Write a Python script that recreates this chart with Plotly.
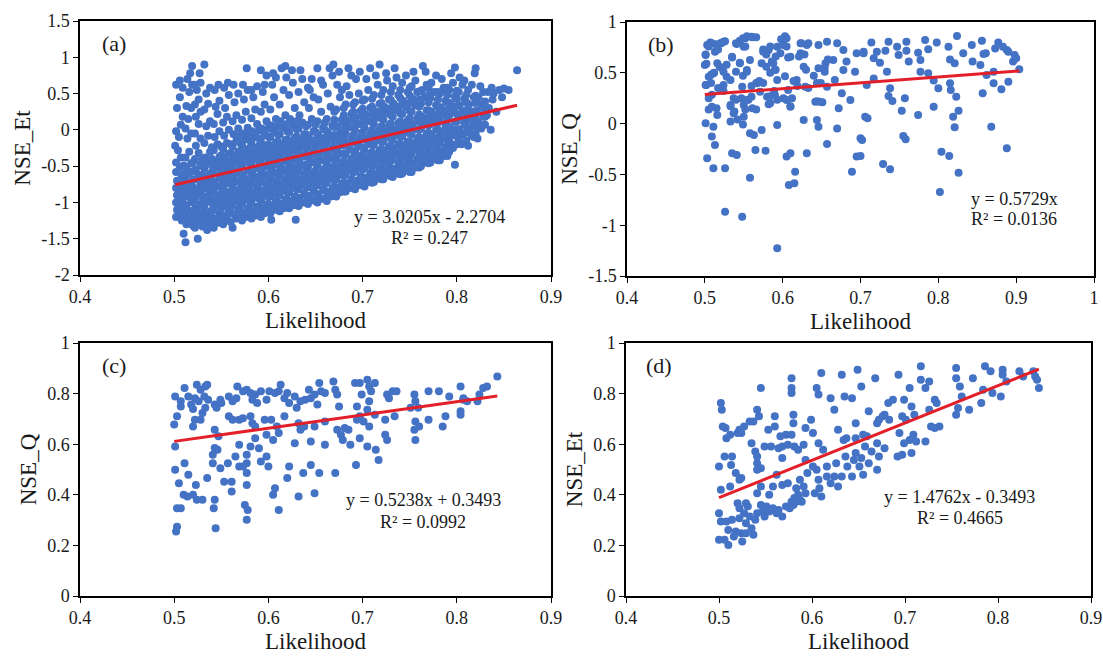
import plotly.graph_objects as go

# ---------------- data ----------------
# panel (a): Likelihood vs NSE_Et  (individual points)
pairs_a = [
 (0.502,-1.20),(0.507,-1.15),(0.503,-1.10),(0.508,-1.05),(0.502,-1.00),(0.506,-0.95),(0.503,-0.90),(0.508,-0.85),(0.502,-0.80),(0.507,-0.75),(0.503,-0.70),(0.508,-0.64),(0.502,-0.58),(0.506,-0.52),(0.502,-0.45),(0.507,-0.38),(0.501,-0.22),(0.504,-0.28),(0.502,-0.02),(0.507,0.07),(0.503,0.30),(0.506,0.45),(0.502,0.62),(0.506,0.68),(0.509,0.58),(0.51,-1.43),(0.505,-1.08),(0.508,-1.25),(0.505,-0.10),(0.509,0.18),
 (0.512,-1.55),(0.513,-1.30),(0.517,-1.25),(0.512,-1.18),(0.516,-1.12),(0.513,-1.05),(0.518,-0.98),(0.512,-0.92),(0.516,-0.86),(0.513,-0.80),(0.518,-0.73),(0.512,-0.66),(0.516,-0.60),(0.513,-0.52),(0.518,-0.46),(0.512,-0.38),(0.516,-0.30),(0.514,-0.12),(0.518,-0.05),(0.512,0.02),(0.515,0.15),(0.518,0.30),(0.513,0.33),(0.516,0.52),(0.519,0.62),(0.514,0.70),(0.517,0.78),(0.519,0.88),
 (0.525,-1.50),(0.522,-1.35),(0.527,-1.28),(0.522,-1.22),(0.526,-1.15),(0.523,-1.08),(0.528,-1.02),(0.522,-0.95),(0.526,-0.88),(0.523,-0.82),(0.528,-0.75),(0.522,-0.68),(0.526,-0.62),(0.523,-0.55),(0.528,-0.48),(0.522,-0.40),(0.526,-0.32),(0.523,-0.22),(0.528,-0.12),(0.522,-0.05),(0.526,0.08),(0.523,0.18),(0.528,0.25),(0.522,0.35),(0.526,0.42),(0.524,0.55),(0.528,0.65),(0.522,0.62),(0.527,0.78),
 (0.532,0.90),(0.535,-1.38),(0.532,-1.30),(0.537,-1.25),(0.533,-1.18),(0.538,-1.12),(0.532,-1.05),(0.536,-0.98),(0.533,-0.92),(0.538,-0.86),(0.532,-0.80),(0.536,-0.73),(0.533,-0.66),(0.538,-0.60),(0.532,-0.53),(0.536,-0.46),(0.533,-0.38),(0.538,-0.30),(0.532,-0.18),(0.536,-0.08),(0.534,0.05),(0.538,0.12),(0.532,0.28),(0.536,0.36),(0.534,0.50),(0.538,0.58),
 (0.542,-1.35),(0.546,-1.28),(0.543,-1.22),(0.548,-1.16),(0.542,-1.10),(0.546,-1.03),(0.543,-0.97),(0.548,-0.90),(0.542,-0.84),(0.546,-0.78),(0.543,-0.71),(0.548,-0.64),(0.542,-0.58),(0.546,-0.51),(0.543,-0.44),(0.548,-0.37),(0.542,-0.28),(0.546,-0.20),(0.543,-0.10),(0.548,-0.02),(0.542,0.08),(0.546,0.22),(0.544,0.32),(0.548,0.40),(0.543,0.55),(0.547,0.62),
 (0.552,-1.30),(0.556,-1.24),(0.553,-1.18),(0.558,-1.12),(0.552,-1.05),(0.556,-0.99),(0.553,-0.93),(0.558,-0.86),(0.552,-0.80),(0.556,-0.74),(0.553,-0.67),(0.558,-0.60),(0.552,-0.54),(0.556,-0.47),(0.553,-0.40),(0.558,-0.33),(0.552,-0.26),(0.556,-0.18),(0.553,-0.08),(0.558,0.00),(0.552,0.10),(0.556,0.18),(0.554,0.30),(0.558,0.48),(0.553,0.58),(0.557,0.65),
 (0.562,-1.35),(0.566,-1.22),(0.563,-1.16),(0.568,-1.10),(0.562,-1.04),(0.566,-0.97),(0.563,-0.90),(0.568,-0.84),(0.562,-0.78),(0.566,-0.71),(0.563,-0.64),(0.568,-0.58),(0.562,-0.51),(0.566,-0.44),(0.563,-0.37),(0.568,-0.30),(0.562,-0.23),(0.566,-0.15),(0.563,-0.06),(0.568,0.02),(0.562,0.12),(0.566,0.20),(0.564,0.38),(0.568,0.50),(0.563,0.62),
 (0.572,-1.25),(0.576,-1.20),(0.573,-1.14),(0.578,-1.08),(0.572,-1.02),(0.576,-0.95),(0.573,-0.88),(0.578,-0.82),(0.572,-0.76),(0.576,-0.69),(0.573,-0.62),(0.578,-0.56),(0.572,-0.49),(0.576,-0.42),(0.573,-0.35),(0.578,-0.28),(0.572,-0.21),(0.576,-0.13),(0.573,-0.05),(0.578,0.03),(0.572,0.14),(0.576,0.25),(0.574,0.42),(0.578,0.55),(0.577,0.85),(0.573,0.62),
 (0.582,-1.22),(0.586,-1.18),(0.583,-1.12),(0.588,-1.06),(0.582,-1.00),(0.586,-0.93),(0.583,-0.86),(0.588,-0.80),(0.582,-0.73),(0.586,-0.66),(0.583,-0.60),(0.588,-0.53),(0.582,-0.46),(0.586,-0.39),(0.583,-0.32),(0.588,-0.25),(0.582,-0.18),(0.586,-0.10),(0.583,-0.02),(0.588,0.08),(0.582,0.16),(0.586,0.28),(0.584,0.45),(0.588,0.60),(0.582,0.55),
 (0.592,-1.20),(0.596,-1.15),(0.593,-1.09),(0.598,-1.03),(0.592,-0.97),(0.596,-0.90),(0.593,-0.84),(0.598,-0.77),(0.592,-0.71),(0.596,-0.64),(0.593,-0.57),(0.598,-0.50),(0.592,-0.43),(0.596,-0.36),(0.593,-0.29),(0.598,-0.22),(0.592,-0.15),(0.596,-0.07),(0.593,0.02),(0.598,0.12),(0.592,0.25),(0.596,0.35),(0.594,0.52),(0.598,0.75),(0.592,0.82),(0.596,0.62),
 (0.602,-1.15),(0.606,-1.10),(0.603,-1.04),(0.608,-0.98),(0.602,-0.92),(0.606,-0.85),(0.603,-0.79),(0.608,-0.72),(0.602,-0.66),(0.606,-0.59),(0.603,-0.52),(0.608,-0.45),(0.602,-0.38),(0.606,-0.31),(0.603,-0.24),(0.608,-0.17),(0.602,-0.10),(0.606,-0.02),(0.603,0.06),(0.608,0.15),(0.602,0.28),(0.606,0.45),(0.604,0.62),(0.608,0.72),(0.605,0.78),(0.603,-1.24),
 (0.612,-1.12),(0.616,-1.08),(0.613,-1.02),(0.618,-0.96),(0.612,-0.90),(0.616,-0.83),(0.613,-0.76),(0.618,-0.70),(0.612,-0.63),(0.616,-0.56),(0.613,-0.49),(0.618,-0.42),(0.612,-0.35),(0.616,-0.28),(0.613,-0.21),(0.618,-0.14),(0.612,-0.06),(0.616,0.03),(0.613,0.12),(0.618,0.20),(0.612,0.35),(0.616,0.55),(0.614,0.85),(0.618,0.88),(0.619,0.72),
 (0.622,-1.08),(0.626,-1.04),(0.623,-0.98),(0.628,-0.92),(0.622,-0.86),(0.626,-0.79),(0.623,-0.73),(0.628,-0.66),(0.622,-0.60),(0.626,-0.53),(0.623,-0.46),(0.628,-0.39),(0.622,-0.32),(0.626,-0.25),(0.623,-0.18),(0.628,-0.11),(0.622,-0.03),(0.626,0.06),(0.623,0.15),(0.628,0.30),(0.622,0.48),(0.626,0.65),(0.625,0.82),(0.629,-1.24),
 (0.632,-1.05),(0.636,-1.00),(0.633,-0.94),(0.638,-0.88),(0.632,-0.82),(0.636,-0.75),(0.633,-0.69),(0.638,-0.62),(0.632,-0.56),(0.636,-0.49),(0.633,-0.42),(0.638,-0.35),(0.632,-0.28),(0.636,-0.21),(0.633,-0.14),(0.638,-0.06),(0.632,0.02),(0.636,0.10),(0.633,0.20),(0.638,0.38),(0.632,0.52),(0.636,0.70),(0.634,0.82),
 (0.642,-1.02),(0.646,-0.97),(0.643,-0.91),(0.648,-0.85),(0.642,-0.79),(0.646,-0.72),(0.643,-0.66),(0.648,-0.59),(0.642,-0.52),(0.646,-0.45),(0.643,-0.38),(0.648,-0.31),(0.642,-0.24),(0.646,-0.17),(0.643,-0.10),(0.648,-0.02),(0.642,0.07),(0.646,0.15),(0.643,0.30),(0.648,0.45),(0.642,0.58),(0.646,0.70),(0.644,0.55),
 (0.652,-1.00),(0.656,-0.95),(0.653,-0.89),(0.658,-0.82),(0.652,-0.76),(0.656,-0.69),(0.653,-0.63),(0.658,-0.56),(0.652,-0.49),(0.656,-0.42),(0.653,-0.35),(0.658,-0.28),(0.652,-0.21),(0.656,-0.14),(0.653,-0.06),(0.658,0.03),(0.652,0.12),(0.656,0.25),(0.653,0.42),(0.658,0.62),(0.652,0.85),(0.656,0.68),
 (0.662,-0.98),(0.666,-0.92),(0.663,-0.86),(0.668,-0.80),(0.662,-0.73),(0.666,-0.66),(0.663,-0.60),(0.668,-0.53),(0.662,-0.46),(0.666,-0.39),(0.663,-0.32),(0.668,-0.25),(0.662,-0.18),(0.666,-0.11),(0.663,-0.03),(0.668,0.06),(0.662,0.15),(0.666,0.32),(0.663,0.50),(0.668,0.75),(0.665,0.85),(0.669,0.90),
 (0.672,-0.92),(0.676,-0.86),(0.673,-0.80),(0.678,-0.74),(0.672,-0.67),(0.676,-0.60),(0.673,-0.54),(0.678,-0.47),(0.672,-0.40),(0.676,-0.33),(0.673,-0.26),(0.678,-0.19),(0.672,-0.12),(0.676,-0.04),(0.673,0.05),(0.678,0.14),(0.672,0.28),(0.676,0.45),(0.673,0.62),(0.678,0.55),(0.675,0.80),
 (0.682,-0.85),(0.686,-0.80),(0.683,-0.74),(0.688,-0.68),(0.682,-0.61),(0.686,-0.54),(0.683,-0.48),(0.688,-0.41),(0.682,-0.34),(0.686,-0.27),(0.683,-0.20),(0.688,-0.13),(0.682,-0.05),(0.686,0.04),(0.683,0.13),(0.688,0.22),(0.682,0.35),(0.686,0.48),(0.683,0.60),(0.688,0.75),(0.685,0.85),
 (0.692,-0.82),(0.696,-0.76),(0.693,-0.70),(0.698,-0.64),(0.692,-0.57),(0.696,-0.50),(0.693,-0.44),(0.698,-0.37),(0.692,-0.30),(0.696,-0.23),(0.693,-0.16),(0.698,-0.09),(0.692,-0.01),(0.696,0.08),(0.693,0.17),(0.698,0.26),(0.692,0.38),(0.696,0.50),(0.693,0.70),(0.697,0.80),
 (0.702,-0.78),(0.706,-0.72),(0.703,-0.66),(0.708,-0.60),(0.702,-0.53),(0.706,-0.46),(0.703,-0.40),(0.708,-0.33),(0.702,-0.26),(0.706,-0.19),(0.703,-0.12),(0.708,-0.05),(0.702,0.03),(0.706,0.12),(0.703,0.21),(0.708,0.30),(0.702,0.42),(0.706,0.55),(0.704,0.70),(0.708,0.85),
 (0.712,-0.72),(0.716,-0.67),(0.713,-0.61),(0.718,-0.55),(0.712,-0.48),(0.716,-0.41),(0.713,-0.35),(0.718,-0.28),(0.712,-0.21),(0.716,-0.14),(0.713,-0.07),(0.718,0.00),(0.712,0.08),(0.716,0.17),(0.713,0.26),(0.718,0.36),(0.712,0.48),(0.716,0.62),(0.714,0.75),(0.718,0.90),
 (0.722,-0.68),(0.726,-0.62),(0.723,-0.56),(0.728,-0.50),(0.722,-0.43),(0.726,-0.36),(0.723,-0.30),(0.728,-0.23),(0.722,-0.16),(0.726,-0.09),(0.723,-0.02),(0.728,0.06),(0.722,0.14),(0.726,0.23),(0.723,0.32),(0.728,0.42),(0.722,0.55),(0.726,0.68),(0.725,0.78),
 (0.732,-0.65),(0.736,-0.60),(0.733,-0.54),(0.738,-0.47),(0.732,-0.40),(0.736,-0.33),(0.733,-0.27),(0.738,-0.20),(0.732,-0.13),(0.736,-0.06),(0.733,0.01),(0.738,0.09),(0.732,0.18),(0.736,0.27),(0.733,0.36),(0.738,0.48),(0.732,0.60),(0.736,0.72),(0.734,0.85),
 (0.742,-0.60),(0.746,-0.55),(0.743,-0.49),(0.748,-0.43),(0.742,-0.36),(0.746,-0.29),(0.743,-0.23),(0.748,-0.16),(0.742,-0.09),(0.746,-0.02),(0.743,0.05),(0.748,0.13),(0.742,0.22),(0.746,0.31),(0.743,0.40),(0.748,0.52),(0.742,0.65),(0.746,0.75),
 (0.752,-0.58),(0.756,-0.52),(0.753,-0.46),(0.758,-0.40),(0.752,-0.33),(0.756,-0.26),(0.753,-0.20),(0.758,-0.13),(0.752,-0.06),(0.756,0.01),(0.753,0.08),(0.758,0.16),(0.752,0.25),(0.756,0.34),(0.753,0.43),(0.758,0.52),(0.752,0.60),(0.756,0.68),(0.754,0.80),
 (0.762,-0.50),(0.766,-0.45),(0.763,-0.39),(0.768,-0.33),(0.762,-0.26),(0.766,-0.19),(0.763,-0.12),(0.768,-0.05),(0.762,0.02),(0.766,0.10),(0.763,0.18),(0.768,0.27),(0.762,0.36),(0.766,0.45),(0.763,0.55),(0.768,0.62),(0.764,0.88),(0.767,0.80),
 (0.772,-0.45),(0.776,-0.40),(0.773,-0.34),(0.778,-0.28),(0.772,-0.21),(0.776,-0.14),(0.773,-0.07),(0.778,0.00),(0.772,0.08),(0.776,0.16),(0.773,0.25),(0.778,0.34),(0.772,0.44),(0.776,0.52),(0.773,0.65),(0.778,0.75),
 (0.782,-0.42),(0.786,-0.36),(0.783,-0.30),(0.788,-0.24),(0.782,-0.17),(0.786,-0.10),(0.783,-0.03),(0.788,0.05),(0.782,0.13),(0.786,0.22),(0.783,0.31),(0.788,0.40),(0.782,0.50),(0.786,0.58),(0.784,0.70),(0.788,0.55),
 (0.792,-0.30),(0.796,-0.25),(0.793,-0.18),(0.798,-0.48),(0.792,-0.11),(0.796,-0.04),(0.793,0.03),(0.798,0.11),(0.792,0.20),(0.796,0.28),(0.793,0.37),(0.798,0.46),(0.792,0.55),(0.796,0.65),(0.798,0.86),(0.794,0.78),
 (0.802,-0.12),(0.806,-0.06),(0.803,0.01),(0.808,0.09),(0.802,0.17),(0.806,0.25),(0.803,0.34),(0.808,0.43),(0.802,0.52),(0.806,0.62),(0.803,0.72),(0.808,0.68),(0.805,-0.20),
 (0.812,-0.22),(0.816,-0.08),(0.813,0.00),(0.818,0.08),(0.812,0.15),(0.816,0.25),(0.813,0.35),(0.818,0.45),(0.812,0.55),(0.816,0.62),(0.819,0.78),(0.82,0.85),(0.818,-0.10),
 (0.822,-0.12),(0.826,0.02),(0.823,0.10),(0.828,0.18),(0.822,0.26),(0.826,0.35),(0.823,0.45),(0.828,0.52),(0.825,0.60),
 (0.832,0.20),(0.836,0.00),(0.834,0.30),(0.838,0.42),(0.833,0.52),(0.837,0.58),(0.839,0.50),
 (0.842,0.25),(0.845,0.55),(0.85,0.57),(0.855,0.55),(0.864,0.82),(0.848,0.45),
]

# panel (a): further points of the dense core, read column by column (Likelihood, [NSE_Et ...])
cols_a = [
 (0.510, [-1.22,-1.12,-1.02,-0.93,-0.83,-0.72,-0.61,-0.49]),
 (0.520, [-1.32,-1.21,-1.11,-1.00,-0.90,-0.79,-0.69,-0.57,-0.45]),
 (0.530, [-1.33,-1.22,-1.13,-1.03,-0.93,-0.82,-0.71,-0.62,-0.50,-0.41]),
 (0.540, [-1.32,-1.21,-1.12,-1.01,-0.91,-0.80,-0.70,-0.59,-0.49,-0.40,-0.24]),
 (0.550, [-1.28,-1.19,-1.08,-0.98,-0.88,-0.77,-0.67,-0.56,-0.46,-0.35,-0.23]),
 (0.560, [-1.27,-1.15,-1.06,-0.95,-0.85,-0.74,-0.64,-0.53,-0.43,-0.32,-0.20]),
 (0.570, [-1.21,-1.12,-1.01,-0.91,-0.81,-0.70,-0.60,-0.50,-0.39,-0.29,-0.18,-0.08]),
 (0.580, [-1.18,-1.09,-0.98,-0.88,-0.77,-0.67,-0.56,-0.46,-0.36,-0.25,-0.14,-0.04]),
 (0.590, [-1.16,-1.06,-0.95,-0.85,-0.74,-0.64,-0.53,-0.43,-0.33,-0.22,-0.12,-0.01]),
 (0.600, [-1.13,-1.03,-0.93,-0.82,-0.72,-0.61,-0.51,-0.41,-0.30,-0.20,-0.09,0.02]),
 (0.610, [-1.10,-1.00,-0.89,-0.79,-0.68,-0.58,-0.48,-0.37,-0.27,-0.16,-0.06,0.05]),
 (0.620, [-1.06,-0.96,-0.86,-0.75,-0.65,-0.54,-0.44,-0.34,-0.23,-0.13,-0.02,0.08]),
 (0.630, [-1.03,-0.93,-0.82,-0.72,-0.61,-0.51,-0.41,-0.30,-0.20,-0.09,0.01,0.12]),
 (0.640, [-1.00,-0.90,-0.79,-0.69,-0.58,-0.48,-0.37,-0.27,-0.16,-0.06,0.05]),
 (0.650, [-0.98,-0.87,-0.77,-0.66,-0.56,-0.45,-0.35,-0.24,-0.14,-0.03,0.07]),
 (0.660, [-0.95,-0.84,-0.74,-0.63,-0.53,-0.42,-0.32,-0.21,-0.11,0.00,0.10]),
 (0.670, [-0.90,-0.80,-0.70,-0.59,-0.49,-0.38,-0.28,-0.17,-0.07,0.04,0.14,0.25]),
 (0.680, [-0.85,-0.75,-0.64,-0.54,-0.43,-0.33,-0.22,-0.12,-0.01,0.09,0.20,0.30]),
 (0.690, [-0.80,-0.70,-0.59,-0.49,-0.38,-0.28,-0.17,-0.07,0.04,0.14,0.25,0.35]),
 (0.700, [-0.76,-0.66,-0.55,-0.45,-0.34,-0.24,-0.13,-0.03,0.08,0.18,0.29,0.40]),
 (0.710, [-0.73,-0.63,-0.52,-0.42,-0.31,-0.21,-0.10,0.00,0.11,0.21,0.32,0.43]),
 (0.720, [-0.68,-0.58,-0.47,-0.37,-0.26,-0.16,-0.05,0.05,0.16,0.26,0.37,0.48]),
 (0.730, [-0.64,-0.54,-0.43,-0.33,-0.22,-0.12,-0.01,0.09,0.20,0.30,0.41,0.52]),
 (0.740, [-0.61,-0.51,-0.40,-0.30,-0.19,-0.09,0.02,0.12,0.23,0.33,0.44,0.55]),
 (0.750, [-0.58,-0.47,-0.37,-0.26,-0.16,-0.05,0.05,0.16,0.26,0.37,0.47,0.58]),
 (0.760, [-0.52,-0.42,-0.31,-0.21,-0.10,0.00,0.11,0.21,0.32,0.42,0.53]),
 (0.770, [-0.46,-0.36,-0.25,-0.15,-0.04,0.06,0.17,0.27,0.38,0.48,0.58]),
 (0.780, [-0.42,-0.32,-0.21,-0.11,0.00,0.10,0.21,0.31,0.42,0.52]),
 (0.790, [-0.36,-0.26,-0.15,-0.05,0.06,0.16,0.27,0.37,0.48,0.58]),
 (0.800, [-0.20,-0.09,0.01,0.12,0.22,0.33,0.43,0.54]),
 (0.810, [-0.15,-0.04,0.06,0.17,0.27,0.38,0.48]),
 (0.820, [-0.05,0.05,0.16,0.26,0.37,0.47]),
 (0.830, [0.07,0.18,0.28,0.39]),
]

# panel (b): Likelihood vs NSE_Q
pairs_b = [
 (0.503,0.774),(0.507,0.797),(0.513,0.708),(0.520,0.79),(0.524,0.806),(0.541,0.783),(0.545,0.816),(0.552,0.84),(0.560,0.856),(0.550,0.757),(0.575,0.708),(0.582,0.725),(0.593,0.757),(0.605,0.84),(0.601,0.774),(0.597,0.692),(0.623,0.79),(0.631,0.774),(0.646,0.774),(0.657,0.806),(0.670,0.79),(0.678,0.725),(0.695,0.692),(0.704,0.708),
 (0.501,0.675),(0.5,0.577),(0.516,0.593),(0.522,0.544),(0.535,0.659),(0.545,0.593),(0.554,0.527),(0.558,0.626),(0.573,0.593),(0.588,0.593),(0.590,0.527),(0.610,0.659),(0.623,0.692),(0.627,0.56),(0.646,0.544),(0.655,0.593),(0.665,0.626),(0.678,0.527),(0.682,0.61),(0.693,0.511),
 (0.501,0.38),(0.505,0.462),(0.511,0.495),(0.524,0.38),(0.528,0.462),(0.537,0.249),(0.548,0.363),(0.554,0.232),(0.560,0.265),(0.567,0.396),(0.571,0.314),(0.580,0.265),(0.584,0.2),(0.590,0.281),(0.601,0.249),(0.605,0.232),(0.610,0.167),(0.618,0.429),(0.629,0.363),(0.642,0.216),(0.648,0.216),(0.657,0.363),(0.667,0.429),(0.672,0.15),(0.676,0.298),(0.687,0.232),(0.509,0.167),(0.516,0.085),(0.533,0.183),(0.537,0.101),(0.550,0.068),(0.550,0.183),
 (0.501,0.003),(0.511,-0.03),(0.509,-0.128),(0.513,-0.21),(0.503,-0.342),(0.511,-0.44),(0.526,-0.44),(0.535,-0.293),(0.541,-0.309),(0.558,-0.096),(0.563,-0.112),(0.573,-0.063),(0.593,-0.014),(0.565,-0.26),(0.578,-0.266),(0.558,-0.532),(0.605,-0.325),(0.610,-0.293),(0.616,-0.473),(0.608,-0.604),(0.615,-0.588),(0.627,0.035),(0.644,0.035),(0.646,-0.03),(0.631,-0.293),(0.657,-0.2),(0.670,-0.047),(0.689,-0.473),(0.695,-0.325),(0.700,-0.145),(0.706,0.068),(0.526,-0.867),(0.548,-0.916),(0.593,-1.228),
 (0.501,0.68),(0.502,0.59),(0.505,0.76),(0.509,0.79),(0.514,0.78),(0.517,0.73),(0.521,0.79),(0.526,0.81),(0.519,0.56),(0.524,0.51),(0.528,0.58),(0.508,0.48),(0.512,0.5),(0.502,0.38),(0.508,0.4),(0.505,0.25),(0.509,0.285),(0.505,0.14),(0.515,0.15),(0.517,0.35),(0.524,0.32),(0.533,0.43),(0.535,0.65),(0.54,0.79),(0.545,0.81),(0.549,0.84),(0.554,0.86),(0.561,0.85),(0.566,0.85),(0.552,0.76),(0.545,0.6),(0.54,0.51),(0.549,0.47),(0.554,0.51),(0.56,0.37),(0.566,0.4),(0.57,0.42),(0.575,0.4),(0.54,0.235),(0.547,0.25),(0.552,0.14),(0.556,0.235),(0.561,0.15),(0.566,0.14),(0.533,0.17),(0.538,0.12),(0.533,0.02),(0.542,0.04),(0.549,-0.01),(0.575,0.73),(0.579,0.68),(0.584,0.76),(0.579,0.56),(0.586,0.61),(0.591,0.66),(0.584,0.5),(0.591,0.53),(0.593,0.43),(0.584,0.27),(0.589,0.32),(0.582,0.19),(0.593,0.235),(0.598,0.83),(0.603,0.86),(0.605,0.76),(0.607,0.65),(0.603,0.465),(0.607,0.33),(0.612,0.25),(0.61,0.17),(0.614,0.42),(0.619,0.37),(0.621,0.66),(0.624,0.79),(0.628,0.68),(0.633,0.79),(0.63,0.53),(0.633,0.35),(0.64,0.47),(0.644,0.4),(0.649,0.4),(0.644,0.22),(0.651,0.21),(0.654,0.55),(0.658,0.63),(0.654,0.51),
 (0.714,0.797),(0.704,0.692),(0.717,0.642),(0.721,0.708),(0.725,0.6),(0.732,0.718),(0.736,0.806),(0.747,0.757),(0.749,0.675),(0.759,0.806),(0.759,0.718),(0.762,0.61),(0.734,0.511),(0.708,0.38),(0.717,0.445),(0.738,0.347),(0.736,0.272),(0.741,0.222),(0.757,0.249),(0.753,0.127),(0.709,0.052),(0.702,-0.161),(0.70,-0.32),(0.729,-0.398),(0.738,-0.45),(0.755,-0.122),(0.758,-0.155),
 (0.774,0.698),(0.777,0.626),(0.777,0.511),(0.783,0.823),(0.787,0.731),(0.798,0.797),(0.787,0.495),(0.794,0.423),(0.8,0.347),(0.774,0.085),(0.794,0.167),(0.813,0.757),(0.815,0.632),(0.821,0.593),(0.824,0.862),(0.815,0.396),(0.816,0.331),(0.823,0.265),(0.826,0.127),(0.819,0.068),(0.821,-0.037),(0.804,-0.276),(0.814,-0.319),(0.826,-0.483),(0.802,-0.673),
 (0.832,0.692),(0.843,0.774),(0.844,0.61),(0.856,0.816),(0.858,0.685),(0.861,0.692),(0.854,0.577),(0.862,0.478),(0.857,0.298),(0.868,-0.03),(0.873,0.74),(0.877,0.797),(0.883,0.757),(0.888,0.725),(0.89,0.708),(0.871,0.511),(0.871,0.396),(0.881,0.337),(0.89,0.413),(0.888,-0.243),(0.898,0.675),(0.896,0.61),(0.9,0.642),(0.904,0.534),
]

# panel (c): Likelihood vs NSE_Q
pairs_c = [
 (0.501,0.789),(0.503,0.71),(0.5,0.678),(0.507,0.749),(0.511,0.822),(0.515,0.789),(0.507,0.77),(0.518,0.757),(0.522,0.782),(0.524,0.835),(0.528,0.815),(0.533,0.828),(0.535,0.835),(0.526,0.77),(0.532,0.789),(0.536,0.776),(0.543,0.757),(0.545,0.744),(0.549,0.776),(0.55,0.763),(0.52,0.739),(0.53,0.723),(0.533,0.744),(0.522,0.697),(0.528,0.697),(0.52,0.67),
 (0.558,0.789),(0.562,0.77),(0.566,0.782),(0.567,0.828),(0.573,0.809),(0.577,0.815),(0.581,0.802),(0.583,0.776),(0.586,0.796),(0.588,0.763),(0.592,0.809),(0.598,0.776),(0.601,0.809),(0.607,0.802),(0.611,0.809),(0.613,0.835),(0.617,0.782),(0.62,0.802),(0.622,0.763),(0.628,0.789),(0.63,0.744),(0.634,0.77),(0.639,0.776),(0.643,0.815),(0.645,0.782),(0.649,0.796),(0.652,0.757),(0.654,0.842),(0.656,0.809),(0.66,0.802),(0.669,0.848),(0.671,0.815),(0.673,0.796),(0.675,0.749),
 (0.692,0.842),(0.697,0.842),(0.699,0.796),(0.705,0.855),(0.707,0.828),(0.709,0.809),(0.707,0.77),(0.705,0.736),(0.713,0.842),(0.726,0.796),(0.728,0.782),(0.732,0.809),(0.736,0.809),(0.755,0.796),(0.756,0.77),(0.77,0.809),(0.781,0.809),(0.792,0.789),(0.804,0.828),(0.807,0.776),(0.824,0.796),(0.828,0.822),(0.832,0.828),(0.843,0.868),(0.822,0.77),(0.811,0.77),
 (0.543,0.657),(0.547,0.631),(0.558,0.71),(0.562,0.697),(0.569,0.697),(0.573,0.703),(0.581,0.71),(0.583,0.683),(0.586,0.67),(0.596,0.697),(0.598,0.637),(0.603,0.697),(0.609,0.67),(0.611,0.644),(0.617,0.71),(0.632,0.683),(0.634,0.657),(0.638,0.67),(0.649,0.67),(0.66,0.69),(0.673,0.657),(0.677,0.637),(0.681,0.664),(0.685,0.657),(0.694,0.697),(0.697,0.71),(0.701,0.69),(0.707,0.67),(0.694,0.749),(0.713,0.716),(0.724,0.697),(0.734,0.71),(0.751,0.744),(0.759,0.744),(0.756,0.69),(0.76,0.67),(0.755,0.657),(0.77,0.697),(0.788,0.71),(0.785,0.67),(0.804,0.73),(0.804,0.716),(0.807,0.782),
 (0.501,0.591),(0.501,0.499),(0.505,0.446),(0.503,0.347),(0.507,0.347),(0.503,0.274),(0.502,0.255),(0.511,0.525),(0.515,0.479),(0.51,0.4),(0.514,0.393),(0.52,0.4),(0.523,0.439),(0.524,0.38),(0.53,0.38),(0.535,0.466),(0.543,0.585),(0.541,0.558),(0.541,0.525),(0.546,0.578),(0.543,0.38),(0.542,0.347),(0.544,0.268),(0.549,0.505),(0.553,0.452),(0.557,0.525),(0.561,0.452),(0.561,0.413),(0.565,0.551),(0.569,0.598),(0.569,0.512),(0.573,0.512),(0.577,0.558),(0.577,0.525),(0.577,0.486),(0.577,0.439),(0.575,0.36),(0.578,0.34),(0.577,0.301),
 (0.581,0.591),(0.586,0.624),(0.59,0.584),(0.592,0.532),(0.598,0.551),(0.6,0.512),(0.605,0.617),(0.605,0.4),(0.607,0.426),(0.611,0.34),(0.62,0.466),(0.622,0.512),(0.628,0.604),(0.632,0.393),(0.637,0.486),(0.645,0.518),(0.645,0.611),(0.649,0.406),(0.654,0.486),(0.66,0.598),(0.671,0.486),(0.679,0.617),(0.687,0.598),(0.693,0.518),(0.697,0.624),(0.705,0.591),(0.714,0.578),(0.717,0.538),(0.724,0.637),(0.726,0.617),(0.756,0.617),
]

# panel (d): Likelihood vs NSE_Et
pairs_d = [
 (0.502,0.763),(0.503,0.736),(0.5,0.512),(0.502,0.42),(0.504,0.67),(0.507,0.664),(0.508,0.624),(0.512,0.637),(0.506,0.551),(0.514,0.551),(0.513,0.518),(0.52,0.644),(0.522,0.657),(0.524,0.644),(0.527,0.67),(0.533,0.69),(0.537,0.69),(0.535,0.604),(0.539,0.571),(0.541,0.551),(0.541,0.525),(0.541,0.499),(0.545,0.505),(0.541,0.736),(0.543,0.71),(0.545,0.822),(0.549,0.591),(0.553,0.657),(0.556,0.591),(0.56,0.67),(0.56,0.71),(0.564,0.584),(0.562,0.479),(0.558,0.433),(0.566,0.631),(0.568,0.591),(0.572,0.637),(0.574,0.598),(0.568,0.545),(0.568,0.439),(0.574,0.446),
 (0.578,0.861),(0.578,0.822),(0.578,0.802),(0.58,0.716),(0.58,0.683),(0.578,0.637),(0.581,0.591),(0.585,0.578),(0.591,0.598),(0.593,0.664),(0.599,0.697),(0.601,0.644),(0.593,0.538),(0.601,0.512),(0.605,0.822),(0.607,0.796),(0.607,0.604),(0.61,0.881),(0.612,0.578),(0.62,0.782),(0.624,0.736),(0.628,0.657),(0.632,0.875),(0.635,0.789),(0.634,0.617),(0.637,0.624),(0.643,0.782),(0.647,0.683),(0.649,0.894),(0.653,0.828),(0.655,0.637),(0.659,0.631),(0.661,0.73),(0.647,0.624),(0.668,0.861),(0.67,0.604),(0.672,0.697),(0.676,0.71),(0.678,0.716),(0.682,0.763),(0.687,0.776),(0.693,0.875),(0.699,0.776),(0.697,0.71),(0.701,0.697),(0.705,0.822),(0.707,0.749),(0.71,0.716),
 (0.717,0.908),(0.717,0.855),(0.722,0.822),(0.726,0.848),(0.726,0.736),(0.732,0.776),(0.734,0.763),(0.728,0.67),(0.732,0.664),(0.737,0.67),(0.755,0.901),(0.755,0.861),(0.759,0.828),(0.761,0.789),(0.757,0.743),(0.755,0.716),(0.769,0.736),(0.773,0.861),(0.782,0.763),(0.784,0.815),(0.786,0.908),(0.792,0.888),(0.794,0.802),(0.803,0.789),(0.805,0.894),(0.805,0.875),(0.809,0.848),(0.823,0.888),(0.827,0.868),(0.838,0.888),(0.84,0.868),(0.842,0.855),(0.844,0.822),
 (0.605,0.499),(0.607,0.459),(0.608,0.426),(0.61,0.393),(0.603,0.406),(0.616,0.472),(0.62,0.446),(0.624,0.472),(0.626,0.525),(0.616,0.512),(0.628,0.433),(0.632,0.472),(0.636,0.551),(0.638,0.512),(0.643,0.472),(0.645,0.538),(0.647,0.565),(0.651,0.512),(0.653,0.545),(0.655,0.479),(0.657,0.591),(0.661,0.525),(0.664,0.571),(0.67,0.499),(0.672,0.551),(0.678,0.584),(0.692,0.551),(0.697,0.558),(0.707,0.565),(0.705,0.617),(0.709,0.637),(0.712,0.611),(0.722,0.611),(0.694,0.644),(0.699,0.604),(0.67,0.683),(0.683,0.697),
 (0.5,0.327),(0.502,0.294),(0.5,0.222),(0.506,0.222),(0.508,0.294),(0.51,0.261),(0.51,0.202),(0.514,0.301),(0.516,0.235),(0.518,0.255),(0.52,0.367),(0.522,0.347),(0.522,0.307),(0.524,0.248),(0.525,0.215),(0.527,0.327),(0.529,0.288),(0.531,0.354),(0.533,0.314),(0.529,0.248),(0.535,0.268),(0.537,0.242),(0.539,0.301),(0.541,0.327),(0.545,0.36),(0.547,0.334),(0.549,0.314),(0.551,0.354),(0.554,0.334),(0.558,0.347),(0.562,0.327),(0.564,0.34),(0.568,0.314),(0.572,0.354),(0.576,0.347),(0.578,0.373),(0.58,0.36),(0.581,0.387),(0.583,0.373),(0.585,0.4),(0.587,0.38),(0.583,0.426),(0.587,0.459),(0.591,0.433),(0.593,0.406),(0.595,0.486),(0.589,0.373),(0.518,0.486),(0.522,0.459),(0.524,0.466),(0.512,0.433),(0.529,0.367),(0.541,0.406),(0.554,0.4),(0.545,0.433),
]

# trend-line equations shown on the chart (slope, intercept)
fit_a = (3.0205, -2.2704)
fit_b = (0.5729, 0.0)
fit_c = (0.5238, 0.3493)
fit_d = (1.4762, -0.3493)

eq_a = ["y = 3.0205x - 2.2704", "R² = 0.247"]
eq_b = ["y = 0.5729x", "R² = 0.0136"]
eq_c = ["y = 0.5238x + 0.3493", "R² = 0.0992"]
eq_d = ["y = 1.4762x - 0.3493", "R² = 0.4665"]

panel_labels = ["(a)", "(b)", "(c)", "(d)"]
y_titles = ["NSE_Et", "NSE_Q", "NSE_Q", "NSE_Et"]
x_title = "Likelihood"

x_ticks_a = [0.4, 0.5, 0.6, 0.7, 0.8, 0.9]
x_ticktext_a = ["0.4", "0.5", "0.6", "0.7", "0.8", "0.9"]
x_ticks_b = [0.4, 0.5, 0.6, 0.7, 0.8, 0.9, 1.0]
x_ticktext_b = ["0.4", "0.5", "0.6", "0.7", "0.8", "0.9", "1"]
y_ticks_a = [-2, -1.5, -1, -0.5, 0, 0.5, 1, 1.5]
y_ticktext_a = ["-2", "-1.5", "-1", "-0.5", "0", "0.5", "1", "1.5"]
y_ticks_b = [-1.5, -1, -0.5, 0, 0.5, 1]
y_ticktext_b = ["-1.5", "-1", "-0.5", "0", "0.5", "1"]
y_ticks_cd = [0, 0.2, 0.4, 0.6, 0.8, 1]
y_ticktext_cd = ["0", "0.2", "0.4", "0.6", "0.8", "1"]

# ---------------- figure ----------------
FONT = "Liberation Serif"
TXT = "#1a1a1a"
W, H = 1103, 656
BLUE = "#4472C4"
RED = "#E3202A"
TICK_SIZE = 18

# all points of panel (a)
all_a = list(pairs_a)
for cx, cys in cols_a:
    for cy in cys:
        all_a.append((cx, cy))

fig = go.Figure()

def px_x(p):
    return p / W

def px_y(p):
    return 1 - p / H

panels = [
    dict(pairs=all_a, fit=fit_a, eq=eq_a, xa="x", ya="y",
         xdom=[px_x(80), px_x(551)], ydom=[px_y(275), px_y(21)],
         xr=[0.4, 0.9], yr=[-2, 1.5], xt=(x_ticks_a, x_ticktext_a), yt=(y_ticks_a, y_ticktext_a),
         eqpos=(0.743, 0.228, 0.146), lab=panel_labels[0], yt_title=y_titles[0]),
    dict(pairs=pairs_b, fit=fit_b, eq=eq_b, xa="x2", ya="y2",
         xdom=[px_x(627), px_x(1094)], ydom=[px_y(276), px_y(22)],
         xr=[0.4, 1.0], yr=[-1.5, 1], xt=(x_ticks_b, x_ticktext_b), yt=(y_ticks_b, y_ticktext_b),
         eqpos=(0.829, 0.303, 0.224), lab=panel_labels[1], yt_title=y_titles[1]),
    dict(pairs=pairs_c, fit=fit_c, eq=eq_c, xa="x3", ya="y3",
         xdom=[px_x(80), px_x(551)], ydom=[px_y(596), px_y(343)],
         xr=[0.4, 0.9], yr=[0, 1], xt=(x_ticks_a, x_ticktext_a), yt=(y_ticks_cd, y_ticktext_cd),
         eqpos=(0.729, 0.38, 0.293), lab=panel_labels[2], yt_title=y_titles[2]),
    dict(pairs=pairs_d, fit=fit_d, eq=eq_d, xa="x4", ya="y4",
         xdom=[px_x(626), px_x(1091)], ydom=[px_y(596), px_y(343)],
         xr=[0.4, 0.9], yr=[0, 1], xt=(x_ticks_a, x_ticktext_a), yt=(y_ticks_cd, y_ticktext_cd),
         eqpos=(0.718, 0.391, 0.308), lab=panel_labels[3], yt_title=y_titles[3]),
]

layout_axes = {}
annotations = []
for i, p in enumerate(panels):
    xs = [q[0] for q in p["pairs"]]
    ys = [q[1] for q in p["pairs"]]
    fig.add_trace(go.Scatter(
        x=xs, y=ys, mode="markers", xaxis=p["xa"], yaxis=p["ya"],
        marker=dict(size=8, color=BLUE, line=dict(width=0)),
        showlegend=False, hoverinfo="skip", cliponaxis=False))
    slope, icpt = p["fit"]
    x0, x1 = min(xs), max(xs)
    fig.add_trace(go.Scatter(
        x=[x0, x1], y=[slope * x0 + icpt, slope * x1 + icpt], mode="lines",
        xaxis=p["xa"], yaxis=p["ya"], line=dict(color=RED, width=3),
        showlegend=False, hoverinfo="skip"))

    n = "" if i == 0 else str(i + 1)
    layout_axes["xaxis" + n] = dict(
        showline=True, linecolor="black", linewidth=1.5, mirror=True,
        ticks="outside", ticklen=5, tickwidth=1.2, tickcolor="black",
        showgrid=False, zeroline=False, automargin=False,
        domain=p["xdom"], range=p["xr"], anchor="y" + n,
        tickmode="array", tickvals=p["xt"][0], ticktext=p["xt"][1],
        title=dict(text=x_title, font=dict(family=FONT, size=23, color=TXT), standoff=6))
    layout_axes["yaxis" + n] = dict(
        showline=True, linecolor="black", linewidth=1.5, mirror=True,
        ticks="outside", ticklen=5, tickwidth=1.2, tickcolor="black",
        showgrid=False, zeroline=False, automargin=False,
        domain=p["ydom"], range=p["yr"], anchor="x" + n,
        tickmode="array", tickvals=p["yt"][0], ticktext=p["yt"][1],
        title=dict(text=p["yt_title"], font=dict(family=FONT, size=23, color=TXT), standoff=4))

    ex, ey1, ey2 = p["eqpos"]
    for txt, ey in zip(p["eq"], (ey1, ey2)):
        annotations.append(dict(
            text=txt, x=ex, y=ey, xref=p["xa"] + " domain", yref=p["ya"] + " domain",
            showarrow=False, xanchor="center", yanchor="middle",
            font=dict(family=FONT, size=18, color=TXT)))
    annotations.append(dict(
        text=p["lab"], x=0.072, y=0.913, xref=p["xa"] + " domain", yref=p["ya"] + " domain",
        showarrow=False, xanchor="center", yanchor="middle",
        font=dict(family=FONT, size=22, color=TXT)))

fig.update_layout(
    template="none",
    width=W, height=H, margin=dict(l=0, r=0, t=0, b=0, autoexpand=False),
    paper_bgcolor="white", plot_bgcolor="white",
    font=dict(family=FONT, size=TICK_SIZE, color=TXT),
    annotations=annotations, **layout_axes)
fig.update_xaxes(tickfont_family=FONT, tickfont_size=TICK_SIZE, tickfont_color=TXT)
fig.update_yaxes(tickfont_family=FONT, tickfont_size=TICK_SIZE, tickfont_color=TXT)

fig.write_html(
    "out.html",
    config={"displayModeBar": False},
    post_script="document.body.style.margin='0';document.body.style.padding='0';document.body.style.overflow='hidden';")
